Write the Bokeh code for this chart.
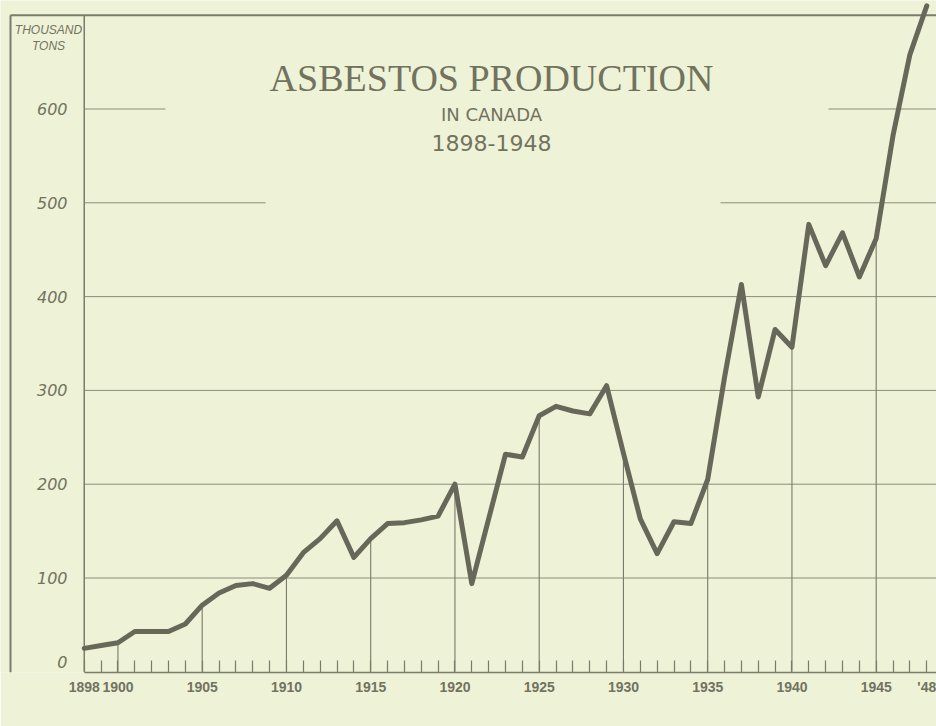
from bokeh.plotting import figure
from bokeh.models import Range1d, FixedTicker
from bokeh.core.properties import value
from bokeh.embed import file_html
from bokeh.resources import INLINE

# ---------------- data ----------------
years = list(range(1898, 1949))
production = [25, 28, 31, 43, 43, 43, 51, 71, 84, 92,
              94, 89, 103, 127, 142, 161, 122, 142, 158, 159,
              162, 166, 200, 94, 163, 232, 229, 273, 283, 278,
              275, 305, 233, 163, 126, 160, 158, 205, 314, 413,
              293, 365, 346, 477, 433, 468, 421, 462, 572, 658, 710]

x_label_years = [1898, 1900, 1905, 1910, 1915, 1920, 1925, 1930, 1935, 1940, 1945, 1948]
x_label_texts = ["1898", "1900", "1905", "1910", "1915", "1920", "1925",
                 "1930", "1935", "1940", "1945", "'48"]
drop_years = [1900, 1905, 1910, 1915, 1920, 1925, 1930, 1935, 1940, 1945]
y_tick_values = [0, 100, 200, 300, 400, 500, 600]
y_tick_labels = ["0", "100", "200", "300", "400", "500", "600"]
full_grid_values = [100, 200, 300, 400]
unit_lines = ["THOUSAND", "TONS"]
title_main = "ASBESTOS PRODUCTION"
title_sub = "IN CANADA"
title_years = "1898-1948"
top_value = 700

# ---------------- style ----------------
BG = "#eef2d7"
INK = "#67685a"
GRID = "#8c8d79"
AX = "#7a7b68"
TXT = "#72735e"

px_per_year = 16.85
axis_px = 83.75                       # screen x of the 1898 axis
X0 = 1898 - axis_px / px_per_year
X1 = 1898 + (936 - axis_px) / px_per_year
Y0, Y1 = -0.75, 715.67

p = figure(width=936, height=726,
           x_range=Range1d(X0, X1), y_range=Range1d(Y0, Y1),
           output_backend="svg", toolbar_location=None,
           y_axis_location=None,
           min_border_left=0, min_border_right=0,
           min_border_top=0, min_border_bottom=54,
           background_fill_color=BG, border_fill_color=BG,
           outline_line_color=None)
p.xgrid.visible = False
p.ygrid.visible = False

ax = p.xaxis[0]
ax.ticker = FixedTicker(ticks=years)
labels = dict(zip(x_label_years, x_label_texts))
ax.major_label_overrides = {yr: labels.get(yr, "") for yr in years}
ax.bounds = (years[0], X1)
ax.major_tick_in = 12
ax.major_tick_out = 0
ax.minor_tick_in = 0
ax.minor_tick_out = 0
ax.axis_line_color = AX
ax.axis_line_width = 1.6
ax.major_tick_line_color = AX
ax.major_tick_line_width = 1.2
ax.major_label_text_font = "Liberation Sans"
ax.major_label_text_font_style = "bold"
ax.major_label_text_font_size = "14px"
ax.major_label_text_color = TXT
ax.major_label_standoff = 6

# horizontal grid lines
n = len(full_grid_values)
p.segment(x0=[years[0]] * n, y0=full_grid_values, x1=[X1] * n, y1=full_grid_values,
          line_color=GRID, line_width=1)
# interrupted grid lines at 500 and 600 (gap around the title)
gx0 = [years[0], 1935.76, years[0], 1942.17]
gx1 = [1908.76, X1, 1902.82, X1]
gy = [500, 500, 600, 600]
p.segment(x0=gx0, y0=gy, x1=gx1, y1=gy, line_color=GRID, line_width=1)

# vertical drop lines from the axis up to the curve
drop_vals = [production[years.index(y)] for y in drop_years]
p.segment(x0=drop_years, y0=[0] * len(drop_years), x1=drop_years, y1=drop_vals,
          line_color=AX, line_width=1.1)

# y axis line and outer frame
x_border = years[0] - (axis_px - 10) / px_per_year
p.segment(x0=[years[0]], y0=[0], x1=[years[0]], y1=[top_value], line_color=AX, line_width=1.5)
p.segment(x0=[x_border], y0=[top_value], x1=[X1], y1=[top_value], line_color=AX, line_width=2)
p.segment(x0=[x_border], y0=[Y0], x1=[x_border], y1=[top_value], line_color=AX, line_width=2)

# data line
p.line(years, production, line_color=INK, line_width=5,
       line_join="round", line_cap="round")

# y tick labels
label_x = years[0] - (axis_px - 67) / px_per_year
ylab_y = [v if v else 10 for v in y_tick_values]
p.text(x=[label_x] * len(y_tick_values), y=ylab_y, text=y_tick_labels,
       text_align="right", text_baseline="middle",
       text_font=value("DejaVu Sans"), text_font_style="italic",
       text_font_size="16px", text_color=TXT)

# unit label
unit_x = years[0] - (axis_px - 48) / px_per_year
p.text(x=[unit_x, unit_x], y=[684, 667], text=unit_lines,
       text_align="center", text_baseline="middle",
       text_font=value("Liberation Sans"), text_font_style="italic",
       text_font_size="12px", text_color=TXT)

# titles
tx = 1898 + (491 - axis_px) / px_per_year
p.text(x=[tx], y=[633.5], text=[title_main], text_align="center", text_baseline="middle",
       text_font=value("Liberation Serif"), text_font_size="38px", text_color=TXT)
p.text(x=[tx], y=[594.5], text=[title_sub], text_align="center", text_baseline="middle",
       text_font=value("DejaVu Sans"), text_font_size="18px", text_color=TXT)
p.text(x=[tx], y=[564], text=[title_years], text_align="center", text_baseline="middle",
       text_font=value("DejaVu Sans"), text_font_size="22px", text_color=TXT)

open("out.html", "w").write(file_html(p, INLINE))
